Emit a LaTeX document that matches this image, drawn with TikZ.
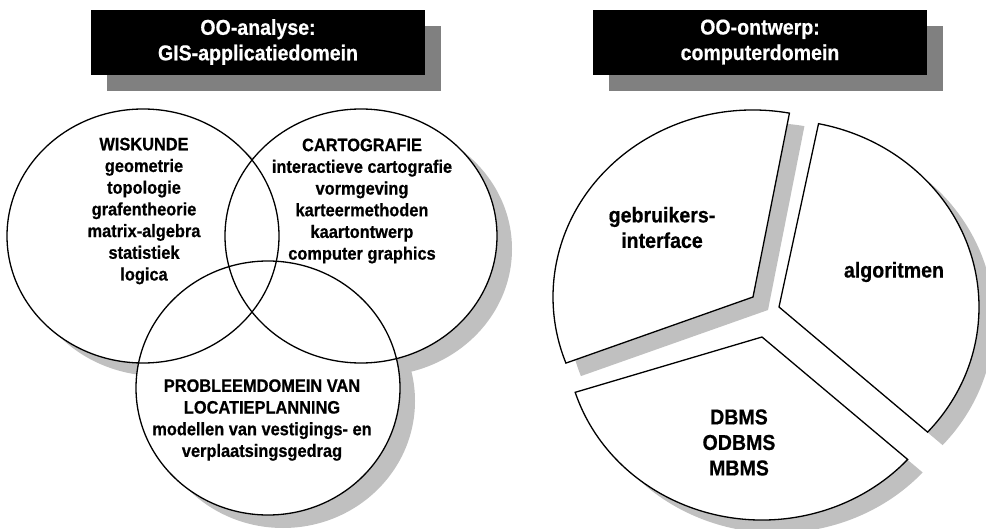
\documentclass[tikz,border=0pt]{standalone}
\usepackage{fontspec}
\setmainfont{Liberation Sans}[FakeStretch=0.91, BoldFeatures={FakeBold=0.6}]
\definecolor{softgray}{RGB}{192,192,192}
\definecolor{darkshade}{RGB}{128,128,128}
\begin{document}
\begin{tikzpicture}[x=1pt,y=1pt,
  outline/.style={draw=black, line width=1.3pt, fill=white},
  dropshade/.style={fill=softgray, shift={(15,-13)}},
  titlebox/.style={fill=black},
  titleshade/.style={fill=darkshade, shift={(16,-16)}},
  venntext/.style={font=\bfseries\fontsize{18}{21.7}\selectfont, align=center, inner sep=0pt},
  bigtext/.style={font=\bfseries\fontsize{21.5}{25.5}\selectfont, align=center, inner sep=0pt},
  titletext/.style={bigtext, text=white}
]
\useasboundingbox (0,0) rectangle (986,-529);

% ---------- title banners ----------
\fill[titleshade] (91,-10) rectangle (425,-75);
\fill[titlebox]   (91,-10) rectangle (425,-75);
\fill[titleshade] (593,-10) rectangle (927,-75);
\fill[titlebox]   (593,-10) rectangle (927,-75);
\node[titletext] (t1) at (258,-42) {OO-analyse:\\GIS-applicatiedomein};
\node[titletext] (t2) at (760,-42) {OO-ontwerp:\\computerdomein};

% ---------- Venn diagram: shadows, fills, outlines ----------
\fill[dropshade] (143,-236) ellipse [x radius=136, y radius=127];
\fill[dropshade] (361,-236) ellipse [x radius=136, y radius=127];
\fill[dropshade] (268,-388) ellipse [x radius=132, y radius=127];
\fill[white] (143,-236) ellipse [x radius=136, y radius=127];
\fill[white] (361,-236) ellipse [x radius=136, y radius=127];
\fill[white] (268,-388) ellipse [x radius=132, y radius=127];
\draw[outline, fill=none] (143,-236) ellipse [x radius=136, y radius=127];
\draw[outline, fill=none] (361,-236) ellipse [x radius=136, y radius=127];
\draw[outline, fill=none] (268,-388) ellipse [x radius=132, y radius=127];

\node[venntext] (wis) at (144,-211) {WISKUNDE\\geometrie\\topologie\\grafentheorie\\matrix-algebra\\statistiek\\logica};
\node[venntext] (carto) at (362,-201) {CARTOGRAFIE\\interactieve cartografie\\vormgeving\\karteermethoden\\kaartontwerp\\computer graphics};
\node[venntext] (prob) at (262,-420) {PROBLEEMDOMEIN VAN\\LOCATIEPLANNING\\modellen van vestigings- en\\verplaatsingsgedrag};

% ---------- exploded pie ----------
\def\gebr{(753,-297) -- ++(79.5:200 and 187) arc[start angle=79.5, end angle=200.7, x radius=200, y radius=187] -- cycle}
\def\algo{(779,-307) -- ++(-42:200 and 187) arc[start angle=-42, end angle=78.6, x radius=200, y radius=187] -- cycle}
\def\dbms{(762,-337) -- ++(197.6:196 and 183) arc[start angle=197.6, end angle=318, x radius=196, y radius=183] -- cycle}

\fill[dropshade] \gebr;
\fill[dropshade] \algo;
\fill[dropshade] \dbms;
\draw[outline, line join=miter] \gebr;
\draw[outline, line join=miter] \algo;
\draw[outline, line join=miter] \dbms;

\node[bigtext] (gui) at (662,-227.5) {gebruikers-\\interface};
\node[bigtext] (alg) at (894,-272) {algoritmen};
\node[bigtext] (db) at (739,-442.5) {DBMS\\ODBMS\\MBMS};
\end{tikzpicture}
\end{document}
